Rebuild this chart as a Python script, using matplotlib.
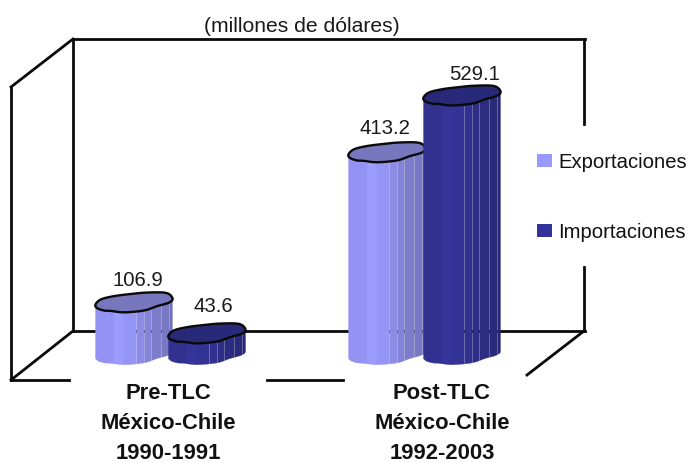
import matplotlib
matplotlib.use("Agg")
import matplotlib.pyplot as plt
import numpy as np

plt.rcParams['font.family'] = ['Liberation Sans', 'DejaVu Sans']

# data
categories = ["Pre-TLC\nMéxico-Chile\n1990-1991", "Post-TLC\nMéxico-Chile\n1992-2003"]
series_names = ["Exportaciones", "Importaciones"]
exportaciones = [106.9, 413.2]
importaciones = [43.6, 529.1]

# bar centres in pixels, the chart has a fake 3d look so x is just screen space
bar_x = [[134, 207], [387, 462]]
label_x = [168, 442]
# where the numbers sit: x in px, and distance from lid centre to number in px
num_x_exp = [138, 385]
num_x_imp = [213, 475]
gap_exp = [22.5, 24.5]
gap_imp = [27, 21.5]

side_light = ["#9393f3", "#9c9cff", "#9595f5", "#8c8ce6", "#8383d8", "#7d7dcc", "#7878c4", "#7272b8"]
side_dark = ["#31318f", "#343499", "#333396", "#31318f", "#2e2e86", "#2c2c80", "#2a2a7a", "#282874"]
top_light = "#7777bd"
top_dark = "#29297a"
legend_colors = ["#9999ff", "#333399"]

# outline of the wobbly top, offsets from the centre in px
blob_x = np.array([-38.5, -33, -20, -3, 13, 32, 38.5, 35, 23, 10, -10, -23, -30, -37])
blob_y = np.array([1.7, -3, -6, -8, -9.3, -9, -4, 0, 3.3, 7.3, 9, 7.7, 7.3, 5]) * 1.08
strip_x = np.array([-38.5, -20, -10, 2, 10, 17, 27, 35, 38.5])


def smooth_closed(x, y, n=8):
    # catmull-rom through the points so the lid is not angular
    out_x, out_y = [], []
    m = len(x)
    for i in range(m):
        for t in np.linspace(0, 1, n, endpoint=False):
            for arr, out in ((x, out_x), (y, out_y)):
                p0, p1, p2, p3 = arr[(i - 1) % m], arr[i], arr[(i + 1) % m], arr[(i + 2) % m]
                out.append(0.5 * (2 * p1 + (p2 - p0) * t + (2 * p0 - 5 * p1 + 4 * p2 - p3) * t ** 2
                                  + (3 * p1 - p0 - 3 * p2 + p3) * t ** 3))
    return np.array(out_x), np.array(out_y)


lid_x, lid_y = smooth_closed(blob_x, blob_y)
# lower half of the lid, left to right: this is the front edge of the bar
left_i, right_i = np.argmin(lid_x), np.argmax(lid_x)
edge = np.r_[right_i:len(lid_x), 0:left_i + 1] if right_i > left_i else np.r_[right_i:left_i + 1]
front_x = lid_x[edge][::-1]
front_y = lid_y[edge][::-1]

fig = plt.figure(figsize=(6.88, 4.63), dpi=100)

# pixel axes for the walls and the text
px = fig.add_axes([0, 0, 1, 1])
px.set_xlim(0, 688)
px.set_ylim(463, 0)
px.axis("off")

# value axes for the bars: 0 sits at pixel 355, 0.49 px per million
PX_PER_UNIT = 0.49
val = fig.add_axes([0, 0, 1, 1])
val.set_xlim(0, 688)
val.set_ylim(-(463 - 355) / PX_PER_UNIT, 355 / PX_PER_UNIT)
val.axis("off")
val.patch.set_alpha(0)

walls = [
    ([73, 585], [39, 39]),
    ([73, 73], [39, 331]),
    ([73, 585], [331, 331]),
    ([584, 584], [39, 124]),
    ([584, 584], [267, 331]),
    ([11, 73], [87, 39]),
    ([11, 11], [87, 380]),
    ([11, 73], [380, 331]),
    ([584, 527], [331, 375]),
    ([11, 69], [380, 380]),
    ([267, 343], [380, 380]),
]
for xs, ys in walls:
    px.plot(xs, ys, color="#0a0a0a", lw=2.0, solid_capstyle="projecting")


def draw_bar(cx, value, sides, top):
    # side strips first, then the lid, all offsets converted to value units
    for i in range(len(sides)):
        # right hand strips leave a hairline gap, the wall shows through it
        pad = 0.45 if i >= 3 else 0
        xs = np.linspace(strip_x[i] + pad, strip_x[i + 1], 8)
        off = np.interp(xs, front_x, front_y) / PX_PER_UNIT
        xx = np.concatenate([cx + xs, cx + xs[::-1]])
        yy = np.concatenate([value - off, (0 - off)[::-1]])
        val.fill(xx, yy, color=sides[i], lw=0.2)
    val.fill(cx + lid_x, value - lid_y / PX_PER_UNIT, facecolor=top, edgecolor="#0a0a0a", lw=1.7, joinstyle="round")


for g in range(len(categories)):
    draw_bar(bar_x[g][0], exportaciones[g], side_light, top_light)
    draw_bar(bar_x[g][1], importaciones[g], side_dark, top_dark)
    val.text(num_x_exp[g], exportaciones[g] + gap_exp[g] / PX_PER_UNIT, f"{exportaciones[g]:.1f}", ha="center", va="center", fontsize=14.7, color="#1a1a1a")
    val.text(num_x_imp[g], importaciones[g] + gap_imp[g] / PX_PER_UNIT, f"{importaciones[g]:.1f}", ha="center", va="center", fontsize=14.7, color="#1a1a1a")
    px.text(label_x[g], 423.5, categories[g], ha="center", va="center", fontsize=15.8, fontweight="bold", linespacing=1.58, color="#111111")

px.text(302, 27, "(millones de dólares)", ha="center", va="center", fontsize=15.2, color="#1a1a1a")

# legend by hand, same spots as the original
legend_y = [160.5, 230.5]
for name, color, y in zip(series_names, legend_colors, legend_y):
    px.fill([537, 552, 552, 537], [y - 6.5, y - 6.5, y + 6.5, y + 6.5], color=color, lw=0)
    px.text(558, y + 1.5, name, ha="left", va="center", fontsize=14.6, color="#111111")

fig.savefig("out.png", dpi=100)
